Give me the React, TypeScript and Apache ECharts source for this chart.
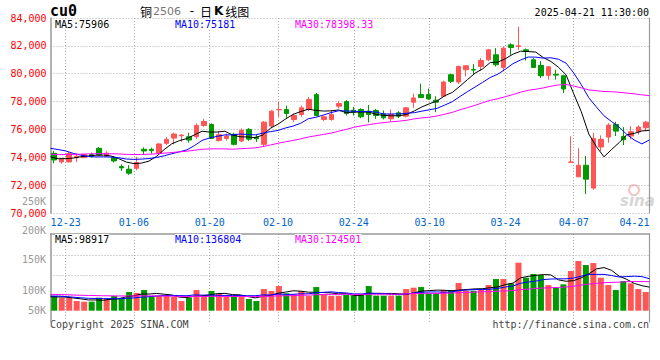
import React, { useEffect, useRef } from 'react';
import * as echarts from 'echarts';

// ---- data ----
const dates = ['12-19','12-20','12-23','12-24','12-25','12-26','12-27','12-30','12-31','01-02','01-03','01-06','01-07','01-08','01-09','01-10','01-13','01-14','01-15','01-16','01-17','01-20','01-21','01-22','01-23','01-24','01-27','02-05','02-06','02-07','02-10','02-11','02-12','02-13','02-14','02-17','02-18','02-19','02-20','02-21','02-24','02-25','02-26','02-27','02-28','03-03','03-04','03-05','03-06','03-07','03-10','03-11','03-12','03-13','03-14','03-17','03-18','03-19','03-20','03-21','03-24','03-25','03-26','03-27','03-28','03-31','04-01','04-02','04-03','04-07','04-08','04-09','04-10','04-11','04-14','04-15','04-16','04-17','04-18','04-21'];

const labelDates = ['12-23','01-06','01-20','02-10','02-24','03-10','03-24','04-07','04-21'];

const open = [74286,73667,73667,73976,73976,74191,74643,74096,73999,73334,73143,73215,74572,74572,74286,75000,75381,75548,75476,75476,76286,76357,75214,75357,75650,75167,76000,75452,74929,76238,77405,77429,76715,77072,77429,78500,76715,76715,77667,78000,77381,77429,77310,77357,77119,76762,77191,76953,77953,78500,78500,78095,78381,79929,79405,80286,80310,80524,81000,81357,80453,82071,81950,81714,81000,80600,79881,79960,79857,73640,72595,73429,71786,74738,75452,76357,75500,75524,75833,76119];
const close = [73810,73857,74262,74072,74191,74072,74167,74286,73738,73239,72857,73620,74453,74477,74953,75286,75667,75596,75238,76286,76572,75357,75619,75524,74930,75929,75300,75334,76524,77310,77429,77143,77000,77548,78143,77000,76905,77072,77857,77150,77238,76905,77072,77000,76834,77072,76953,77548,78262,78286,78191,77953,79405,79453,80524,80572,80262,80953,81714,80643,81833,81881,82000,81595,80453,79850,80500,79900,78905,73660,73429,72429,75357,75286,76310,75881,75262,75833,76167,76524];
const low = [73572,73548,73620,73667,73929,73976,74096,74048,73620,73024,72738,73072,74167,74262,74238,74881,74929,75119,75048,75334,76191,75310,75119,75200,74857,75095,75180,75100,74800,76095,76905,76833,76524,76905,77310,76952,76595,76620,77500,77000,77000,76810,76500,76762,76715,76595,76810,76850,77548,78262,78143,77238,78310,79334,79262,79810,79929,80215,80900,80524,80167,81357,81700,80950,80405,79700,79572,79572,78619,73600,72595,71357,71667,74452,75048,75524,74881,75286,75643,75881];
const high = [74453,73929,74381,74191,74262,74334,74739,74429,74072,73500,73429,74024,74715,74691,75024,75453,75762,75643,75762,76429,76762,76429,75881,75700,75762,76072,76100,75620,76595,77381,78000,77715,77120,77715,78334,78620,77000,77381,78024,78100,77620,77520,77750,77476,77357,77429,77310,77600,78572,79286,78929,78381,79500,80000,80572,80600,80691,81119,81786,81833,81953,82190,83380,81810,81119,80900,80550,80286,79929,75500,74643,74095,75762,75572,76452,76548,76167,76238,76286,76596];
const volume = [62500,55400,55400,41200,38300,38300,55400,49700,62500,49700,79500,75300,88000,62500,62500,62500,59600,41200,55400,88000,66700,83800,71000,59600,62500,59600,49700,41200,92300,83800,105000,73800,69600,83800,62500,100800,69600,62500,62500,66700,63900,71000,105000,63900,63900,63900,63900,92300,98000,100800,73800,73800,88000,88000,117900,85200,85200,92300,109300,134900,134900,116400,204500,140600,156200,151900,109300,98000,112200,169000,211600,194500,203000,140600,109300,88000,126400,116400,92300,79500];

// closes / volumes of the sessions before the window, only used to seed the moving averages
const priorCloses = [74500,74200,73800,73600,73500,73800,74100,73900,73700,73800,74000,74200,74100,73900,74000,74300,74100,73900,74200,74420,74700,75300,75800,75500,75010,74500,74200,73900,73710];
const priorVolumes = [78000,72000,80000,70000,68000,75000,71000,74000,69000,76000,73000,70000,77000,72000,74000,71000,75000,73000,70000,75000,62000,70000,68000,66000,61000,60000,58000,61000,56500];

const priceTicks = [70000, 72000, 74000, 76000, 78000, 80000, 82000, 84000];
const volTickLabels = ['250K', '200K', '150K', '100K', '50K'];
const priceMALegend = ['MA5:75906', 'MA10:75181', 'MA30:78398.33'];
const volMALegend = ['MA5:98917', 'MA10:136804', 'MA30:124501'];

const RED = '#ff5555';
const GREEN = '#009900';
const MA_COLORS = ['#000000', '#0000ff', '#ff00ff'];
const MONO = '"DejaVu Sans Mono", monospace';
const GRIDC = '#aaaaaa';

function movingAverage(values: number[], prior: number[], n: number) {
  const all = prior.concat(values);
  const off = prior.length;
  return values.map((_, i) => {
    let s = 0;
    for (let k = off + i - n + 1; k <= off + i; k++) s += all[k];
    return +(s / n).toFixed(2);
  });
}

const labelSet = new Set(labelDates);
const isLabelled = (index: number) => labelSet.has(dates[index]);

export default function App() {
  const ref = useRef<HTMLDivElement>(null);
  useEffect(() => {
    const chart = echarts.init(ref.current!, null, { renderer: 'svg' });
    const periods = [5, 10, 30];
    const priceMA = periods.map((n) => movingAverage(close, priorCloses, n));
    const volMA = periods.map((n) => movingAverage(volume, priorVolumes, n));
    const dotted = { color: GRIDC, type: [1, 2] as any, width: 1 };
    const lineAxisData = dates.map((d, i) =>
      i === dates.length - 1 ? { value: d, textStyle: { align: 'right' } } : d
    );

    const legendText = (txt: string, x: number, y: number, color: string) => ({
      type: 'text', x, y, z: 100,
      style: { text: txt, fill: color, font: `10px ${MONO}`, verticalAlign: 'middle', backgroundColor: '#fff' },
    });
    const volLabelY = [201, 230.3, 259.3, 290, 310.7];

    const option: any = {
      animation: false,
      backgroundColor: '#fff',
      grid: [
        { left: 50.5, right: 10.5, top: 18, height: 195 },
        { left: 50.5, right: 10.5, top: 234, height: 88 },
        { left: 50.5, right: 10.5, top: 255.7, height: 40 },
      ],
      xAxis: [
        { type: 'category', gridIndex: 0, data: dates, boundaryGap: true, show: false, position: 'top' },
        {
          type: 'category', gridIndex: 0, data: lineAxisData, boundaryGap: false, position: 'bottom',
          axisLine: { show: false }, axisTick: { show: false },
          axisLabel: { interval: (i: number) => isLabelled(i), color: '#0066cc', fontFamily: MONO, fontSize: 10, margin: 4 },
          splitLine: { show: true, interval: (i: number) => isLabelled(i), lineStyle: dotted },
        },
        { type: 'category', gridIndex: 1, data: dates, boundaryGap: true, show: false, position: 'bottom' },
        {
          type: 'category', gridIndex: 1, data: dates, boundaryGap: false, position: 'top',
          axisLine: { show: true, onZero: false, lineStyle: { color: '#999', width: 1.5 } },
          axisTick: { show: false }, axisLabel: { show: false },
          splitLine: { show: true, interval: (i: number) => isLabelled(i), lineStyle: dotted },
        },
        { type: 'category', gridIndex: 2, data: dates, show: false },
      ],
      yAxis: [
        {
          type: 'value', gridIndex: 0, min: priceTicks[0], max: priceTicks[priceTicks.length - 1], interval: 2000,
          axisLine: { show: true, lineStyle: { color: '#999', width: 1.5 } }, axisTick: { show: false },
          axisLabel: { color: '#ff0000', fontFamily: MONO, fontSize: 10, margin: 4 },
          splitLine: { show: true, lineStyle: dotted },
        },
        {
          type: 'value', gridIndex: 0, position: 'right', min: 70000, max: 84000,
          axisLine: { show: true, lineStyle: { color: '#999', width: 1.2 } }, axisTick: { show: false },
          axisLabel: { show: false }, splitLine: { show: false },
        },
        {
          type: 'value', gridIndex: 1, min: -48138, max: 326742, position: 'left',
          axisLine: { show: true, onZero: false, lineStyle: { color: '#999', width: 1.5 } }, axisTick: { show: false },
          axisLabel: { show: false }, splitLine: { show: false },
        },
        {
          type: 'value', gridIndex: 1, position: 'right', min: -48138, max: 326742,
          axisLine: { show: true, onZero: false, lineStyle: { color: '#999', width: 1.2 } }, axisTick: { show: false },
          axisLabel: { show: false }, splitLine: { show: false },
        },
        {
          type: 'value', gridIndex: 2, min: 0, max: 2, interval: 1,
          axisLine: { show: false }, axisTick: { show: false }, axisLabel: { show: false },
          splitLine: { show: true, lineStyle: dotted },
        },
      ],
      series: [
        {
          type: 'candlestick', xAxisIndex: 0, yAxisIndex: 0, barWidth: 5,
          data: dates.map((_, i) => [open[i], close[i], low[i], high[i]]),
          itemStyle: { color: RED, color0: GREEN, borderColor: RED, borderColor0: GREEN, borderWidth: 1 },
          z: 2,
        },
        ...priceMA.map((d, k) => ({
          type: 'line', xAxisIndex: 1, yAxisIndex: 0, data: d, showSymbol: false, symbol: 'none',
          lineStyle: { color: MA_COLORS[k], width: 1 }, z: 3 + k,
        })),
        {
          type: 'bar', xAxisIndex: 2, yAxisIndex: 2, barWidth: 6,
          data: volume.map((v, i) => ({ value: v, itemStyle: { color: close[i] >= open[i] ? RED : GREEN } })),
          z: 2,
        },
        ...volMA.map((d, k) => ({
          type: 'line', xAxisIndex: 3, yAxisIndex: 2, data: d, showSymbol: false, symbol: 'none',
          lineStyle: { color: MA_COLORS[k], width: 1 }, z: 3 + k,
        })),
      ],
      graphic: [
        { type: 'text', x: 50, y: 11, style: { text: 'cu0', font: `bold 15px ${MONO}`, fill: '#000', verticalAlign: 'middle' } },
        {
          type: 'text', x: 140, y: 11,
          style: {
            text: '{a|铜}{b|2506}{c| - }{a|日}{k|K}{a|线图}', verticalAlign: 'middle',
            rich: {
              a: { font: '12px "Noto Sans CJK SC"', fill: '#000' },
              b: { font: '11px "DejaVu Sans"', fill: '#777', padding: [0, 0, 0, 1] },
              c: { font: '12px "DejaVu Sans"', fill: '#000', padding: [0, 2, 0, 5] },
              k: { font: 'bold 12px "DejaVu Sans"', fill: '#000', padding: [0, 2, 0, 2] },
            },
          },
        },
        { type: 'text', x: 649, y: 12, style: { text: '2025-04-21 11:30:00', font: `10px ${MONO}`, fill: '#000', align: 'right', verticalAlign: 'middle' } },
        ...priceMALegend.map((t, k) => legendText(t, [55, 175, 295][k], 24, MA_COLORS[k])),
        ...volMALegend.map((t, k) => legendText(t, [55, 175, 295][k], 239, MA_COLORS[k])),
        ...volTickLabels.map((t, k) => ({
          type: 'text', x: 46, y: volLabelY[k],
          style: { text: t, font: `10px ${MONO}`, fill: '#999', align: 'right', verticalAlign: 'middle' },
        })),
        { type: 'text', x: 50, y: 324, style: { text: 'Copyright 2025 SINA.COM', font: `10px ${MONO}`, fill: '#444', verticalAlign: 'middle' } },
        { type: 'text', x: 649, y: 324, style: { text: 'http://finance.sina.com.cn', font: `10px ${MONO}`, fill: '#444', align: 'right', verticalAlign: 'middle' } },
        { type: 'circle', shape: { cx: 634, cy: 190, r: 5 }, style: { fill: 'none', stroke: '#f4c4c4', lineWidth: 2 } },
        { type: 'text', x: 620, y: 201, style: { text: 'sina', font: 'italic bold 15px "DejaVu Sans"', fill: '#d6d6d6', verticalAlign: 'middle' } },
      ],
    };
    chart.setOption(option);
    return () => chart.dispose();
  }, []);
  return <div ref={ref} style={{ position: 'fixed', left: 0, top: 0, width: 660, height: 360 }} />;
}
